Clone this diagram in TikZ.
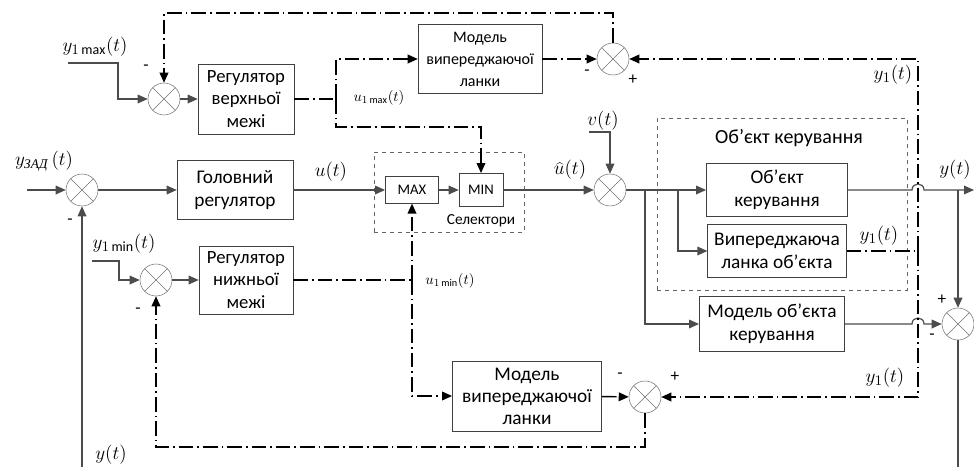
\documentclass[tikz,border=0pt]{standalone}
\usepackage{fontspec}
\setmainfont{Carlito}
\newfontfamily\cyrserif{Liberation Serif}
\usetikzlibrary{arrows.meta,positioning,calc}

\begin{document}
\begin{tikzpicture}[
    x=0.75pt, y=-0.75pt,
    >={Triangle[length=7.5pt,width=6.5pt]},
    block/.style={rectangle, draw=black!75, fill=white, align=center, inner sep=1pt,
                  font=\fontsize{14.5}{17.5}\selectfont},
    selbox/.style={rectangle, draw=black!75, fill=white, inner sep=1pt,
                  font=\fontsize{11}{12}\selectfont},
    sumnode/.style={circle, draw=black!55, fill=white, minimum size=24pt, inner sep=0pt,
                  path picture={\draw[black!55]
                     (path picture bounding box.south west) -- (path picture bounding box.north east)
                     (path picture bounding box.north west) -- (path picture bounding box.south east);}},
    grpbox/.style={rectangle, draw=black!60, dashed, inner sep=0pt},
    sig/.style={draw=black!70, line width=0.9pt},
    dd/.style={draw=black, line width=1.1pt, dash pattern=on 11pt off 3pt on 1.2pt off 3pt},
    lbl/.style={inner sep=1pt, font=\fontsize{15}{17}\selectfont},
    slbl/.style={inner sep=1pt, font=\fontsize{11}{12}\selectfont},
    signlbl/.style={inner sep=1pt, font=\fontsize{13}{14}\selectfont}
]
\useasboundingbox (0,0) rectangle (974,467);

% Groups
\node[grpbox, minimum width=112.5pt, minimum height=60pt] (selgrp) at (449,192) {};
\node[font=\fontsize{11.5}{12}\selectfont] (sellbl) at (481,221) {Селектори};
\node[grpbox, minimum width=187.5pt, minimum height=129pt] (objgrp) at (782,204) {};
\node[font=\fontsize{15}{16}\selectfont] (objlbl) at (789,138) {Об’єкт керування};

% Summing junctions
\node[sumnode] (s0) at (82,190) {};
\node[sumnode] (s1) at (164,99) {};
\node[sumnode] (s2) at (613,59) {};
\node[sumnode] (s3) at (156,280) {};
\node[sumnode] (sv) at (610,190) {};
\node[sumnode] (s4) at (645,397) {};
\node[sumnode] (s5) at (958,324) {};

% Blocks
\node[block, minimum width=72pt, minimum height=52.5pt, font=\fontsize{14}{17}\selectfont] (regup) at (246,99) {Регулятор\\верхньої\\межі};
\node[block, minimum width=87pt, minimum height=44pt] (regmain) at (235,190) {Головний\\регулятор};
\node[block, minimum width=70.5pt, minimum height=51pt, font=\fontsize{14}{17}\selectfont] (reglow) at (246,280) {Регулятор\\нижньої\\межі};
\node[block, minimum width=93pt, minimum height=52pt, font=\fontsize{12}{16.5}\selectfont] (modelup) at (480,59) {Модель\\випереджаючої\\ланки};
\node[block, minimum width=112pt, minimum height=52.5pt, font=\fontsize{14.5}{16.5}\selectfont] (modellow) at (527,396) {Модель\\випереджаючої\\ланки};
\node[selbox, minimum width=40pt, minimum height=20pt] (max) at (412,190) {MAX};
\node[selbox, minimum width=33pt, minimum height=25pt] (min) at (481,190) {MIN};
\node[block, minimum width=106pt, minimum height=40pt] (obj) at (777,190) {Об’єкт\\керування};
\node[block, minimum width=104pt, minimum height=40pt] (lead) at (777,251) {Випереджаюча\\ланка об’єкта};
\node[block, minimum width=109pt, minimum height=41pt] (objmodel) at (772,324) {Модель об’єкта\\керування};

% Free ends and corners
\coordinate (in0) at (27,190);
\coordinate (ybot) at (82,467);
\coordinate (y1maxin) at (68,63);
\coordinate (y1maxk) at (118,63);
\coordinate (y1minin) at (92,261);
\coordinate (y1mink) at (119,261);
\coordinate (vin) at (589,132);
\coordinate (j1) at (645,190);
\coordinate (j2) at (678,190);
\coordinate (jy) at (958,190);
\coordinate (yout) at (974,190);
\coordinate (yend) at (958,467);
\coordinate (hop1a) at (912,190);
\coordinate (hop1b) at (924,190);
\coordinate (hop2a) at (912,324);
\coordinate (hop2b) at (924,324);
\coordinate (ju) at (336,99);
\coordinate (jd) at (336,127);
\coordinate (tr) at (613,13);
\coordinate (jr) at (918,251);
\coordinate (jl) at (412,280);
\coordinate (br) at (645,447);

% Signal lines
\draw[sig,->] (in0) -- (s0);
\draw[sig,->] (s0) -- (regmain);
\draw[sig,->] (regmain) -- (max);
\draw[sig,->] (max) -- (min);
\draw[sig,->] (min) -- (sv);
\draw[sig,->] (vin) -| (sv);
\draw[sig,->] (sv) -- (obj);
\draw[sig,->] (j2) |- (lead);
\draw[sig,->] (j1) |- (objmodel);
\draw[sig,->] (obj) -- (hop1a) .. controls +(0,-8) and +(0,-8) .. (hop1b) -- (yout);
\draw[sig,->] (jy) -- (s5);
\draw[sig,->] (objmodel) -- (hop2a) .. controls +(0,-8) and +(0,-8) .. (hop2b) -- (s5);
\draw[sig] (s5) -- (yend);
\draw[sig,->] (ybot) -- (s0);
\draw[sig,->] (y1maxin) -- (y1maxk) |- (s1);
\draw[sig,->] (s1) -- (regup);
\draw[sig,->] (y1minin) -- (y1mink) |- (s3);
\draw[sig,->] (s3) -- (reglow);

% Limit loops
\draw[dd] (regup) -- (ju);
\draw[dd,->] (ju) |- (modelup);
\draw[dd,->] (ju) -- (jd) -| (min);
\draw[dd,->] (modelup) -- (s2);
\draw[dd,->] (s2) -- (tr) -| (s1);
\draw[dd] (lead) -- (jr);
\draw[dd,->] (jr) |- (s2);
\draw[dd,->] (jr) |- (s4);
\draw[dd] (reglow) -- (jl);
\draw[dd,->] (jl) -- (max);
\draw[dd,->] (jl) |- (modellow);
\draw[dd,->] (modellow) -- (s4);
\draw[dd,->] (s4) -- (br) -| (s3);

% Labels
\node[lbl] (ly1max) at (95,47) {$y_{1\max}(t)$};
\node[lbl] (lyzad) at (44,161) {$y_{\mbox{\fontsize{10}{11}\cyrserif\itshape ЗАД}}\,(t)$};
\node[lbl] (ly1min) at (124,244) {$y_{1\min}(t)$};
\node[lbl] (lu) at (331,172) {$u(t)$};
\node[slbl] (lu1max) at (379,98) {$u_{1\max}(t)$};
\node[slbl] (lu1min) at (450,281) {$u_{1\min}(t)$};
\node[lbl] (luhat) at (570,170) {$\widehat{u}(t)$};
\node[lbl] (lv) at (603,121) {$v(t)$};
\node[lbl] (ly1a) at (893,75) {$y_1(t)$};
\node[lbl] (ly1b) at (879,236) {$y_1(t)$};
\node[lbl] (ly1c) at (885,378) {$y_1(t)$};
\node[lbl] (lyr) at (955,170) {$y(t)$};
\node[lbl] (lyb) at (111,455) {$y(t)$};

% Signs
\node[signlbl] (m1) at (146,68) {-};
\node[signlbl] (m2) at (587,73) {-};
\node[signlbl] (p2) at (633,80) {+};
\node[signlbl] (m0) at (70,222) {-};
\node[signlbl] (m3) at (138,311) {-};
\node[signlbl] (m4) at (620,376) {-};
\node[signlbl] (p4) at (675,377) {+};
\node[signlbl] (p5) at (942,300) {+};
\node[signlbl] (m5) at (932,337) {-};

\end{tikzpicture}
\end{document}
